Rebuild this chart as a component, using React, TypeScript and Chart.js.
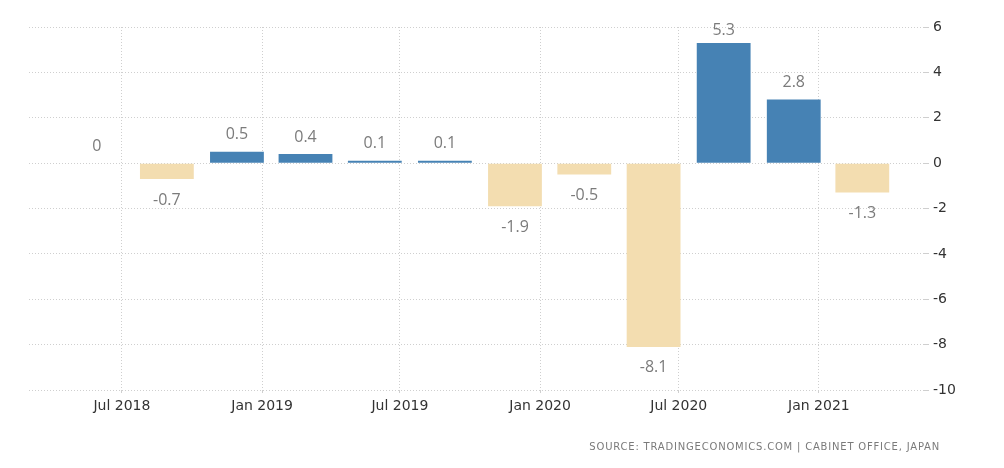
import React, { useEffect, useRef } from "react";
import { Chart, registerables } from "chart.js";

Chart.register(...registerables);

const quarters = [
  "2018 Q2", "2018 Q3", "2018 Q4", "2019 Q1", "2019 Q2", "2019 Q3",
  "2019 Q4", "2020 Q1", "2020 Q2", "2020 Q3", "2020 Q4", "2021 Q1",
];
const gdpGrowth = [0, -0.7, 0.5, 0.4, 0.1, 0.1, -1.9, -0.5, -8.1, 5.3, 2.8, -1.3];
const xTickLabels = ["Jul 2018", "Jan 2019", "Jul 2019", "Jan 2020", "Jul 2020", "Jan 2021"];
const yMin = -10;
const yMax = 6;
const yStep = 2;
const sourceText = "SOURCE: TRADINGECONOMICS.COM | CABINET OFFICE, JAPAN";

const DAY = 86400000;
const EPOCH = Date.UTC(2018, 0, 1);
const MONTHS = ["Jan", "Feb", "Mar", "Apr", "May", "Jun", "Jul", "Aug", "Sep", "Oct", "Nov", "Dec"];
const BAR_SHIFT_DAYS = 32; // bars drawn slightly before the quarter-end date

// days since Jan 1 2018
const quarterToDay = (q: string) => {
  const [y, qq] = q.split(" ");
  const end = Date.UTC(parseInt(y), parseInt(qq.slice(1)) * 3, 0);
  return (end - EPOCH) / DAY - BAR_SHIFT_DAYS;
};
const labelToDay = (l: string) => {
  const [m, y] = l.split(" ");
  return (Date.UTC(parseInt(y), MONTHS.indexOf(m), 1) - EPOCH) / DAY;
};

const BLUE = "#4682b4";
const PALE = "#f3ddb0";
const GRID = "#cfcfcf";

export default function App() {
  const ref = useRef<HTMLCanvasElement | null>(null);

  useEffect(() => {
    if (!ref.current) return;
    const points = quarters.map((q, i) => ({ x: quarterToDay(q), y: gdpGrowth[i] }));
    const tickDays = xTickLabels.map(labelToDay);

    const valueLabels = {
      id: "valueLabels",
      afterDatasetsDraw(chart: any) {
        const ctx = chart.ctx;
        const meta = chart.getDatasetMeta(0);
        ctx.save();
        ctx.font = "16px 'Open Sans'";
        ctx.fillStyle = "#7b7b7b";
        ctx.textAlign = "center";
        ctx.textBaseline = "middle";
        meta.data.forEach((bar: any, i: number) => {
          const v = gdpGrowth[i];
          const y = v >= 0 ? Math.max(bar.y - 17, chart.chartArea.top + 3) : bar.y + 21;
          ctx.fillText(String(v), bar.x, y);
        });
        ctx.restore();
      },
    };

    const source = {
      id: "source",
      afterDraw(chart: any) {
        const ctx = chart.ctx;
        ctx.save();
        ctx.font = "10px 'DejaVu Sans'";
        (ctx as any).letterSpacing = "0.8px";
        ctx.fillStyle = "#7a7a7a";
        ctx.textAlign = "right";
        ctx.textBaseline = "middle";
        ctx.fillText(sourceText, 940, 447);
        ctx.restore();
      },
    };

    const chart = new Chart(ref.current, {
      type: "bar",
      data: {
        datasets: [
          {
            data: points as any,
            backgroundColor: gdpGrowth.map((v) => (v >= 0 ? BLUE : PALE)),
            borderWidth: 0,
            barPercentage: 1,
            categoryPercentage: 0.785,
          },
        ],
      },
      options: {
        animation: false,
        responsive: false,
        layout: { padding: { left: 29, top: 27, right: 0, bottom: 0 } },
        plugins: { legend: { display: false }, tooltip: { enabled: false } },
        scales: {
          x: {
            type: "linear",
            offset: false,
            min: 59,
            max: 1234,
            afterBuildTicks(scale: any) {
              scale.ticks = tickDays.map((d) => ({ value: d }));
            },
            afterFit(scale: any) {
              scale.height = 78;
            },
            border: { display: false, dash: [1, 2] },
            grid: {
              offset: false,
              color: GRID,
              lineWidth: 1,
              tickLength: 3,
            },
            ticks: {
              padding: 5,
              color: "#333",
              font: { family: "'DejaVu Sans'", size: 14 },
              maxRotation: 0,
              autoSkip: false,
              callback: (v: any) => {
                const i = tickDays.indexOf(Number(v));
                return i >= 0 ? xTickLabels[i] : "";
              },
            },
          },
          y: {
            position: "right",
            min: yMin,
            max: yMax,
            afterFit(scale: any) {
              scale.width = 80;
            },
            border: { display: false, dash: [1, 2] },
            grid: {
              color: GRID,
              lineWidth: 1,
              tickLength: 5,
            },
            ticks: {
              stepSize: yStep,
              padding: 4,
              color: "#333",
              font: { family: "'DejaVu Sans'", size: 14 },
            },
          },
        },
      },
      plugins: [valueLabels, source],
    });

    return () => chart.destroy();
  }, []);

  return (
    <div style={{ position: "absolute", left: 0, top: 0, width: 1004, height: 468, background: "#fff" }}>
      <canvas ref={ref} width={1004} height={468} />
    </div>
  );
}
